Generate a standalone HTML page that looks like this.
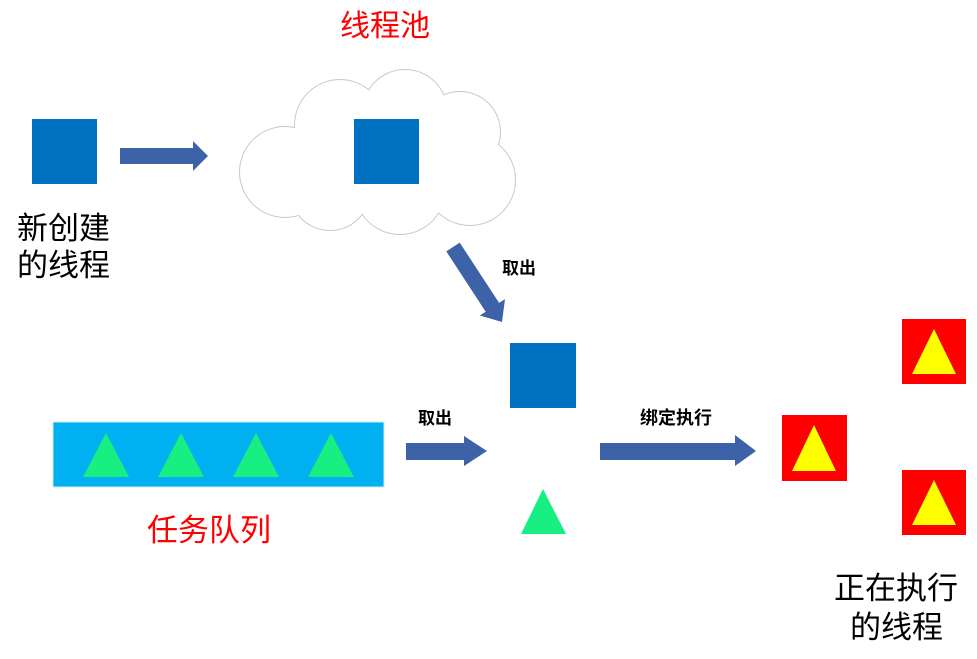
<!DOCTYPE html>
<html><head><meta charset="utf-8"><style>
html,body{margin:0;padding:0;background:#fff;}
svg{display:block}
text{font-family:"Liberation Sans","Noto Sans CJK SC",sans-serif;}
</style></head><body>
<svg width="977" height="659" viewBox="0 0 977 659" xmlns="http://www.w3.org/2000/svg">
<rect width="977" height="659" fill="#fff"/>
<!-- cloud -->
<g fill="none" stroke="#c8c8c8" stroke-width="2">
<circle cx="285" cy="172" r="45"/><circle cx="340" cy="125" r="45"/><circle cx="405" cy="112" r="42"/>
<circle cx="460" cy="132" r="40"/><circle cx="470" cy="180" r="45"/><circle cx="400" cy="189" r="45"/><circle cx="330" cy="190" r="40"/>
</g>
<g fill="#fff">
<circle cx="285" cy="172" r="45"/><circle cx="340" cy="125" r="45"/><circle cx="405" cy="112" r="42"/>
<circle cx="460" cy="132" r="40"/><circle cx="470" cy="180" r="45"/><circle cx="400" cy="189" r="45"/><circle cx="330" cy="190" r="40"/>
<rect x="300" y="120" width="170" height="80"/>
</g>
<!-- squares -->
<rect x="32" y="119" width="65" height="65" fill="#0070c0"/>
<rect x="354" y="119" width="65" height="65" fill="#0070c0"/>
<rect x="510" y="343" width="66" height="65" fill="#0070c0"/>
<!-- arrows -->
<g fill="#3d62a8">
<polygon points="120,148 193,148 193,141 208,156 193,171 193,164 120,164"/>
<polygon points="459.7,242.6 499.1,302.9 505,299.1 502,322 479.8,315.5 485.7,311.7 446.3,251.4"/>
<polygon points="406,443 464,443 464,436 487,451 464,466 464,460 406,460"/>
<polygon points="600,443 735,443 735,435 756,451 735,466 735,460 600,460"/>
</g>
<!-- queue -->
<rect x="53" y="422" width="331" height="65" fill="#00b0f0" stroke="#d0e8f5" stroke-width="1"/>
<g fill="#17ef83">
<polygon points="83,477 106,433 129,477"/>
<polygon points="158,477 181,433 204,477"/>
<polygon points="233,477 256,433 279,477"/>
<polygon points="308,477 331,433 354,477"/>
<polygon points="521,534 543,489 566,534"/>
</g>
<!-- red -->
<rect x="782" y="415" width="65" height="66" fill="#ff0000"/>
<rect x="902" y="319" width="64" height="65" fill="#ff0000"/>
<rect x="902" y="470" width="64" height="65" fill="#ff0000"/>
<g fill="#ffff00">
<polygon points="792,471 814,425 836,471"/>
<polygon points="912,374 934,329 956,374"/>
<polygon points="912,525 934,480 956,525"/>
</g>
<!-- text -->
<text x="340" y="36" font-size="30" fill="#ff0000">线程池</text>
<text x="17" y="239" font-size="31" fill="#000">新创建</text>
<text x="17" y="276" font-size="31" fill="#000">的线程</text>
<text x="502" y="274" font-size="17" font-weight="bold" fill="#000">取出</text>
<text x="418" y="424" font-size="17" font-weight="bold" fill="#000">取出</text>
<text x="640" y="424" font-size="18" font-weight="bold" fill="#000">绑定执行</text>
<text x="147" y="541" font-size="31" fill="#ff0000">任务队列</text>
<text x="834" y="599" font-size="31" fill="#000">正在执行</text>
<text x="850" y="638" font-size="31" fill="#000">的线程</text>
</svg>
</body></html>
